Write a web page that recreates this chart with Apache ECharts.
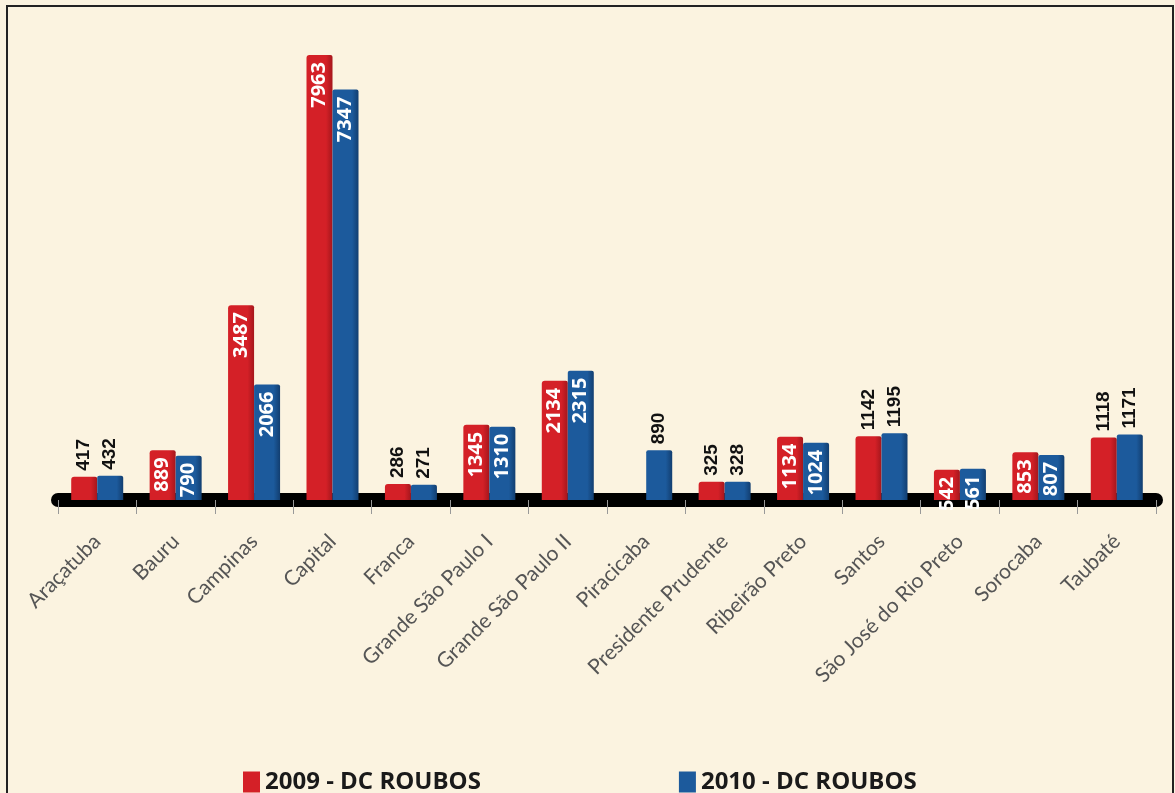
<!DOCTYPE html>
<html>
<head>
<meta charset="utf-8">
<script src="https://cdn.jsdelivr.net/npm/echarts@6/dist/echarts.min.js"></script>
<style>
  html, body { margin: 0; padding: 0; background: #fbf3e0; }
  #chart { width: 1175px; height: 793px; }
</style>
</head>
<body>
<div id="chart"></div>
<script>
const categories = ["Araçatuba", "Bauru", "Campinas", "Capital", "Franca", "Grande São Paulo I",
    "Grande São Paulo II", "Piracicaba", "Presidente Prudente", "Ribeirão Preto", "Santos",
    "São José do Rio Preto", "Sorocaba", "Taubaté"]
const roubos2009 = [417, 889, 3487, 7963, 286, 1345, 2134, null, 325, 1134, 1142, 542, 853, 1118]
const roubos2010 = [432, 790, 2066, 7347, 271, 1310, 2315, 890, 328, 1024, 1195, 561, 807, 1171]
// categories whose value labels sit above the bars instead of inside
const labelsAbove = ["Araçatuba", "Franca", "Piracicaba", "Presidente Prudente", "Santos", "Taubaté"]

function labelOut() {
    // anchored just above the bar top, text runs upwards
    return {
        show: true,
        position: "top",
        distance: 6,
        rotate: 90,
        align: "left",
        verticalAlign: "middle",
        color: "#111",
        fontFamily: "Liberation Sans",
        fontWeight: "bold",
        fontSize: 19
    }
}
function labelIn() {
    return {
        show: true,
        position: "insideTop",
        distance: 7,
        rotate: 90,
        align: "right",
        verticalAlign: "middle",
        color: "#fff",
        fontFamily: "Open Sans",
        fontWeight: "bold",
        fontSize: 20
    }
}

function buildData(values) {
    return values.map((v, i) => ({
        value: v === null ? "-" : v,
        label: labelsAbove.includes(categories[i]) ? labelOut() : labelIn()
    }))
}

function shade(light, dark) {
    return new echarts.graphic.LinearGradient(0, 0, 1, 0, [
        { offset: 0, color: light },
        { offset: 0.75, color: light },
        { offset: 1, color: dark }
    ])
}

let chartDom = document.getElementById("chart")
let myChart = echarts.init(chartDom)

let option = {
    backgroundColor: "#fbf3e0",
    animation: false,
    grid: { left: 58, right: 19, top: 53, bottom: 293 },
    graphic: [{
        type: "rect",
        silent: true,
        shape: { x: 7, y: 6, width: 1166, height: 820 },
        style: { fill: "none", stroke: "#222", lineWidth: 2 }
    }],
    legend: {
        left: 238,
        top: 765,
        itemGap: 198,
        itemWidth: 17,
        itemHeight: 21,
        icon: "rect",
        textStyle: {
            fontFamily: "Open Sans",
            fontWeight: "bold",
            fontSize: 24,
            color: "#1a1a1a"
        },
        data: [
            { name: "2009 - DC ROUBOS", itemStyle: { color: "#d42027" } },
            { name: "2010 - DC ROUBOS", itemStyle: { color: "#1c5a9c" } }
        ]
    },
    xAxis: {
        type: "category",
        data: categories,
        axisLine: { lineStyle: { color: "#000", width: 14 } },
        axisTick: { show: true, length: 14, lineStyle: { color: "#999" } },
        axisLabel: {
            rotate: 45,
            margin: 38,
            color: "#555",
            fontFamily: "Lato",
            fontSize: 21
        }
    },
    yAxis: {
        type: "value",
        min: 0,
        max: 8000,
        show: false,
        splitLine: { show: false }
    },
    series: [
        {
            name: "2009 - DC ROUBOS",
            type: "bar",
            barWidth: 26,
            barGap: "0%",
            itemStyle: { color: shade("#d42027", "#a5161c"), borderRadius: [3, 2, 0, 0] },
            data: buildData(roubos2009)
        },
        {
            name: "2010 - DC ROUBOS",
            type: "bar",
            barWidth: 26,
            itemStyle: { color: shade("#1c5a9c", "#123e70"), borderRadius: [2, 2, 0, 0] },
            data: buildData(roubos2010)
        }
    ]
}

option && myChart.setOption(option)
</script>
</body>
</html>
